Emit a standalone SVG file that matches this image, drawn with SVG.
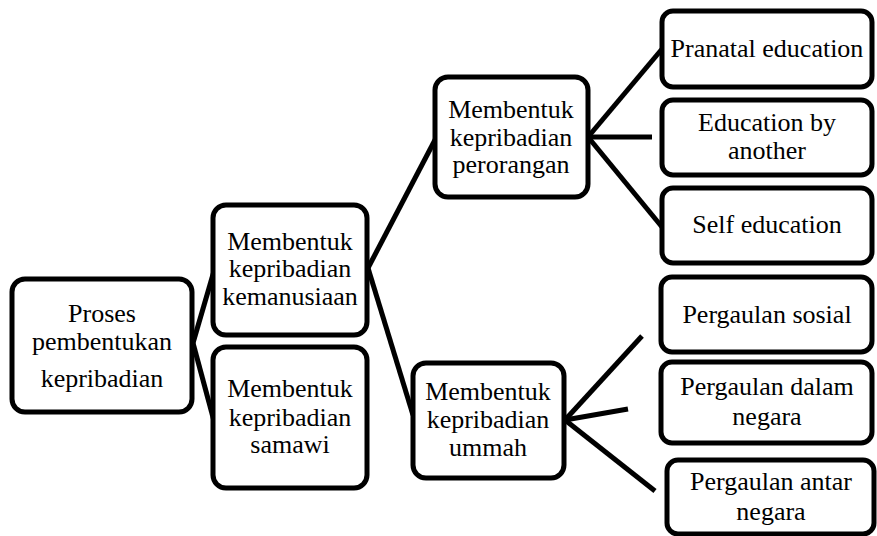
<svg xmlns="http://www.w3.org/2000/svg" width="877" height="536" viewBox="0 0 877 536">
<style>
rect.n{fill:#fff;stroke:#000;stroke-width:5;}
text{font-family:'Liberation Serif',serif;font-size:26px;fill:#000;text-anchor:middle;}
#connectors line{stroke:#000;stroke-width:5;stroke-linecap:butt;}
</style>
<rect width="877" height="536" fill="#fff"/>
<g id="connectors">
<line x1="193" y1="343" x2="214" y2="271"/>
<line x1="193" y1="343" x2="214" y2="421"/>
<line x1="368" y1="268" x2="436" y2="138"/>
<line x1="368" y1="268" x2="413" y2="415"/>
<line x1="588" y1="137" x2="662" y2="49"/>
<line x1="588" y1="137" x2="652" y2="137"/>
<line x1="588" y1="137" x2="662" y2="227"/>
<line x1="565" y1="420" x2="642" y2="336"/>
<line x1="565" y1="420" x2="628" y2="409"/>
<line x1="565" y1="420" x2="655" y2="491"/>
</g>
<g id="n-proses">
<rect class="n" x="12" y="279" width="180" height="133" rx="13"/>
<text x="102" y="322">Proses</text>
<text x="102" y="350">pembentukan</text>
<text x="102" y="387">kepribadian</text>
</g>
<g id="n-kemanusiaan">
<rect class="n" x="213" y="205" width="154" height="130" rx="13"/>
<text x="290" y="250">Membentuk</text>
<text x="290" y="277">kepribadian</text>
<text x="290" y="305">kemanusiaan</text>
</g>
<g id="n-samawi">
<rect class="n" x="213" y="347" width="154" height="141" rx="13"/>
<text x="290" y="397">Membentuk</text>
<text x="290" y="426">kepribadian</text>
<text x="290" y="453">samawi</text>
</g>
<g id="n-perorangan">
<rect class="n" x="435" y="77" width="153" height="120" rx="13"/>
<text x="511" y="118">Membentuk</text>
<text x="511" y="146">kepribadian</text>
<text x="511" y="173">perorangan</text>
</g>
<g id="n-ummah">
<rect class="n" x="413" y="363" width="151" height="115" rx="13"/>
<text x="488" y="400">Membentuk</text>
<text x="488" y="428">kepribadian</text>
<text x="488" y="456">ummah</text>
</g>
<g id="n-pranatal">
<rect class="n" x="662" y="11" width="210" height="76" rx="11"/>
<text x="767" y="57">Pranatal education</text>
</g>
<g id="n-another">
<rect class="n" x="662" y="100" width="210" height="75" rx="11"/>
<text x="767" y="131">Education by</text>
<text x="767" y="159">another</text>
</g>
<g id="n-self">
<rect class="n" x="662" y="188" width="210" height="75" rx="11"/>
<text x="767" y="233">Self education</text>
</g>
<g id="n-sosial">
<rect class="n" x="661" y="277" width="211" height="75" rx="11"/>
<text x="767" y="323">Pergaulan sosial</text>
</g>
<g id="n-dalam">
<rect class="n" x="661" y="362" width="211" height="81" rx="11"/>
<text x="767" y="395">Pergaulan dalam</text>
<text x="767" y="425">negara</text>
</g>
<g id="n-antar">
<rect class="n" x="667" y="460" width="207" height="74" rx="11"/>
<text x="771" y="490">Pergaulan antar</text>
<text x="771" y="520">negara</text>
</g>
</svg>
